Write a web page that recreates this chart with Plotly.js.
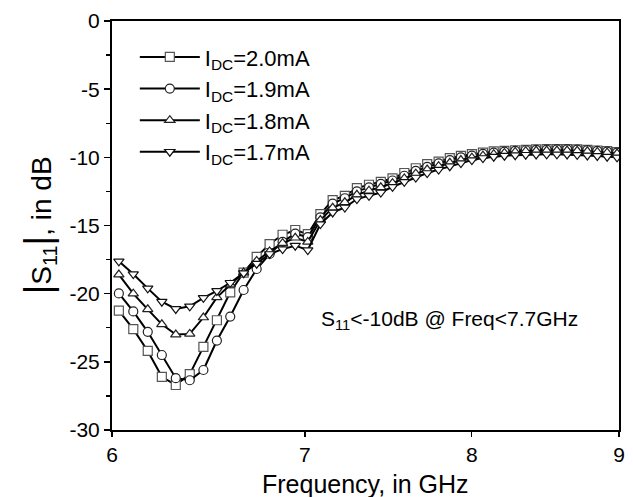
<!DOCTYPE html>
<html>
<head>
<meta charset="utf-8">
<script src="https://cdn.plot.ly/plotly-3.0.1.min.js"></script>
<style>html,body{margin:0;padding:0;background:#fff;}#chart{width:633px;height:497px;}</style>
</head>
<body>
<div id="chart"></div>
<script>
// Frequency points (GHz)
const freq = [6.033,6.103,6.174,6.244,6.314,6.385,6.455,6.525,6.595,6.666,6.736,6.806,6.877,6.947,7.017,7.088,7.158,7.228,7.298,7.369,7.439,7.509,7.580,7.650,7.720,7.791,7.861,7.931,8.001,8.072,8.142,8.212,8.283,8.353,8.423,8.494,8.564,8.634,8.704,8.775,8.845,8.915,8.986];

const s11_20 = [-21.25,-22.6,-24.2,-26.1,-26.7,-25.9,-23.9,-21.95,-19.9,-18.45,-17.3,-16.36,-15.68,-15.33,-15.63,-14.16,-13.14,-12.82,-12.26,-12.01,-11.8,-11.55,-11.15,-10.8,-10.5,-10.31,-10.06,-9.89,-9.77,-9.65,-9.57,-9.52,-9.48,-9.45,-9.42,-9.4,-9.4,-9.4,-9.42,-9.45,-9.5,-9.55,-9.62];
const s11_19 = [-19.98,-21.3,-22.8,-24.5,-26.2,-26.35,-25.6,-23.44,-21.68,-19.73,-18.19,-17.09,-16.2,-15.6,-15.85,-14.4,-13.4,-13.0,-12.5,-12.2,-11.95,-11.7,-11.35,-11.0,-10.7,-10.45,-10.2,-10.0,-9.88,-9.75,-9.65,-9.58,-9.52,-9.48,-9.45,-9.43,-9.42,-9.42,-9.44,-9.47,-9.52,-9.58,-9.65];
const s11_18 = [-18.6,-20.0,-21.15,-22.25,-23.0,-22.95,-21.75,-20.27,-19.34,-18.45,-17.6,-16.9,-16.3,-15.9,-16.2,-14.6,-13.7,-13.3,-12.75,-12.45,-12.2,-11.9,-11.55,-11.2,-10.9,-10.65,-10.4,-10.2,-10.02,-9.88,-9.77,-9.68,-9.6,-9.55,-9.52,-9.5,-9.5,-9.5,-9.52,-9.56,-9.6,-9.66,-9.72];
const s11_17 = [-17.63,-18.56,-19.61,-20.59,-21.12,-20.93,-20.31,-19.8,-19.2,-18.5,-17.8,-17.09,-16.73,-16.48,-16.8,-14.9,-14.04,-13.68,-13.06,-12.82,-12.58,-12.16,-11.8,-11.48,-11.15,-10.9,-10.65,-10.42,-10.2,-10.05,-9.95,-9.88,-9.84,-9.81,-9.79,-9.78,-9.78,-9.79,-9.82,-9.86,-9.9,-9.95,-10.0];

const seriesNames = ["I<sub>DC</sub>=2.0mA","I<sub>DC</sub>=1.9mA","I<sub>DC</sub>=1.8mA","I<sub>DC</sub>=1.7mA"];
const seriesData = [s11_20, s11_19, s11_18, s11_17];
const symbols = ["square","circle","triangle-up","triangle-down"];
const markerColors = ["#555555","#222222","#222222","#111111"];

const xTicks = [6,7,8,9];
const yTicks = [-30,-25,-20,-15,-10,-5,0];
const yTickText = ["-30","-25","-20","-15","-10","-5","0"];

const font = "Liberation Sans, Arial, sans-serif";

const traces = seriesData.map((ys, i) => ({
  x: freq, y: ys, name: seriesNames[i], type: "scatter", mode: "lines+markers",
  line: {color: "#000", width: 2},
  marker: {symbol: symbols[i], size: 9, color: "#fff", line: {color: markerColors[i], width: 1.2}}
}));

const layout = {
  width: 633, height: 497,
  margin: {l: 112, r: 14, t: 21, b: 67},
  paper_bgcolor: "#fff", plot_bgcolor: "#fff",
  font: {family: font, color: "#000", size: 21},
  showlegend: true,
  legend: {x: 0.045, y: 0.963, xanchor: "left", yanchor: "top", bgcolor: "rgba(0,0,0,0)",
           font: {size: 22, family: font}, itemwidth: 60, tracegroupgap: 0},
  xaxis: {
    type: "log", range: [Math.log10(6), Math.log10(9)],
    tickvals: xTicks, ticktext: xTicks.map(String),
    ticks: "outside", ticklen: 5, tickwidth: 1.5, tickcolor: "#000",
    showline: true, linecolor: "#000", linewidth: 2, mirror: true,
    showgrid: false, zeroline: false,
    tickfont: {size: 21}
  },
  yaxis: {
    range: [-30, 0], tickvals: yTicks, ticktext: yTickText,
    ticks: "outside", ticklen: 6, tickwidth: 1.5, tickcolor: "#000",
    minor: {dtick: 2.5, ticks: "outside", ticklen: 4, tickcolor: "#000", tickwidth: 1.2},
    showline: true, linecolor: "#000", linewidth: 2, mirror: true,
    showgrid: false, zeroline: false,
    tickfont: {size: 21},
    title: {text: "<span style='font-size:38px'>|</span>S<sub>11</sub><span style='font-size:38px'>|</span>, in dB", font: {size: 28}, standoff: 10}
  },
  annotations: [
    {xref: "paper", yref: "paper", x: 0.665, y: 0.27, xanchor: "center", yanchor: "middle",
     text: "S<sub>11</sub>&lt;-10dB @ Freq&lt;7.7GHz", showarrow: false, font: {size: 21}},
    {xref: "paper", yref: "paper", x: 0.5, y: -0.132, xanchor: "center", yanchor: "middle",
     text: "Frequency, in GHz", showarrow: false, font: {size: 25}}
  ]
};

Plotly.newPlot("chart", traces, layout, {displayModeBar: false, staticPlot: true});
</script>
</body>
</html>
